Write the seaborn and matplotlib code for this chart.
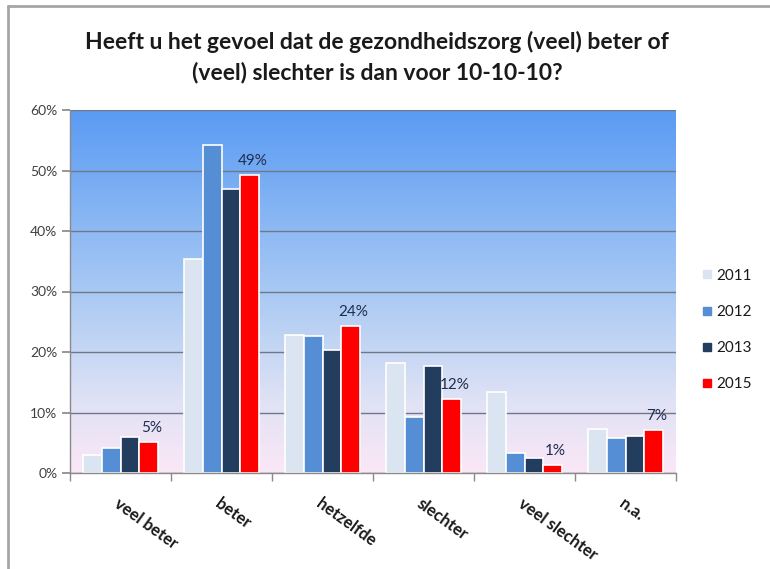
import numpy as np
import pandas as pd
import matplotlib
matplotlib.use("Agg")
import matplotlib.pyplot as plt
from matplotlib.colors import LinearSegmentedColormap
from matplotlib.lines import Line2D
import seaborn as sns

categories = ["veel beter", "beter", "hetzelfde", "slechter", "veel slechter", "n.a."]
years = ["2011", "2012", "2013", "2015"]
v2011 = [2.9, 35.4, 22.8, 18.1, 13.4, 7.2]
v2012 = [4.2, 54.2, 22.6, 9.3, 3.3, 5.8]
v2013 = [5.9, 46.9, 20.4, 17.7, 2.4, 6.1]
v2015 = [5.1, 49.3, 24.3, 12.2, 1.3, 7.1]
labels2015 = ["5%", "49%", "24%", "12%", "1%", "7%"]
yticks = [0, 10, 20, 30, 40, 50, 60]
title = "Heeft u het gevoel dat de gezondheidszorg (veel) beter of\n(veel) slechter is dan voor 10-10-10?"

colors = ["#dbe5f1", "#558ed5", "#233d5e", "#ff0000"]

rows = []
for y, vals in zip(years, [v2011, v2012, v2013, v2015]):
    for c, v in zip(categories, vals):
        rows.append({"cat": c, "year": y, "val": v})
df = pd.DataFrame(rows)

sns.set_theme(style="white")
plt.rcParams["font.family"] = ["Lato", "DejaVu Sans"]

fig = plt.figure(figsize=(7.7, 5.69), dpi=100)
ax = fig.add_axes([70/770, 1 - 473/569, (676 - 70)/770, (473 - 110)/569])

# gradient background
cmap = LinearSegmentedColormap.from_list(
    "bg", [(0.0, "#fbe7f7"), (0.2, "#dfe2f5"), (0.5, "#a8c9f3"), (1.0, "#5a9bf4")])
grad = np.linspace(0, 1, 256).reshape(-1, 1)
ax.imshow(grad, cmap=cmap, origin="lower", aspect="auto",
          extent=[-0.5, 5.5, 0, 60], zorder=0)

sns.barplot(data=df, x="cat", y="val", hue="year", palette=colors, ax=ax,
            width=0.75, edgecolor="white", linewidth=1.2, saturation=1,
            zorder=3, legend=False)

ax.set_xlim(-0.5, 5.5)
ax.set_ylim(0, 60)
ax.set_yticks(yticks)
ax.set_yticklabels([f"{t}%" for t in yticks], fontsize=10, color="#404040")
ax.yaxis.grid(True, color="#707888", linewidth=1.0, zorder=1)
ax.set_axisbelow(False)
for l in ax.get_ygridlines():
    l.set_zorder(1)
ax.set_xlabel("")
ax.set_ylabel("")

for s in ["top", "right"]:
    ax.spines[s].set_visible(False)
for s in ["left", "bottom"]:
    ax.spines[s].set_color("#8a8a8a")
    ax.spines[s].set_linewidth(1.0)
    ax.spines[s].set_zorder(4)

ax.tick_params(axis="y", left=True, length=6, color="#8a8a8a", pad=3)
# x ticks at category boundaries
ax.set_xticks(np.arange(-0.5, 6.0, 1.0), minor=True)
ax.tick_params(axis="x", which="minor", bottom=True, length=6, color="#8a8a8a")
ax.set_xticks(range(len(categories)))
ax.set_xticklabels(categories, rotation=-36, ha="left", va="top",
                   rotation_mode="anchor", fontsize=12, fontweight="bold",
                   color="#1a1a1a")
ax.tick_params(axis="x", which="major", bottom=False, pad=10)

# data labels for 2015
cont2015 = ax.containers[3]
for bar, lab in zip(cont2015, labels2015):
    ax.annotate(lab, (bar.get_x() + bar.get_width() / 2, bar.get_height()),
                xytext=(2, 5), textcoords="offset points", ha="center", va="bottom",
                fontsize=11, color="#1f2d4d", zorder=5)

# legend
handles = [Line2D([0], [0], marker="s", linestyle="", markersize=6,
                  markerfacecolor=c, markeredgecolor=c) for c in colors]
fig.legend(handles, years, loc="center left", bbox_to_anchor=(688/770, 1 - 330/569),
           frameon=False, fontsize=11, labelspacing=1.45, handlelength=0.7,
           handletextpad=0.25, labelcolor="#1a1a1a")

fig.text(377/770, 1 - 57/569, title, ha="center", va="center", fontsize=16.5,
         fontweight="bold", color="#1a1a1a", linespacing=1.45)

# outer border (top and left)
fig.add_artist(Line2D([8/770, 1.0], [1 - 6/569, 1 - 6/569], transform=fig.transFigure,
                      color="#a6a6a6", linewidth=2))
fig.add_artist(Line2D([8/770, 8/770], [0, 1 - 6/569], transform=fig.transFigure,
                      color="#a6a6a6", linewidth=2))

fig.savefig("out.png", dpi=100)
